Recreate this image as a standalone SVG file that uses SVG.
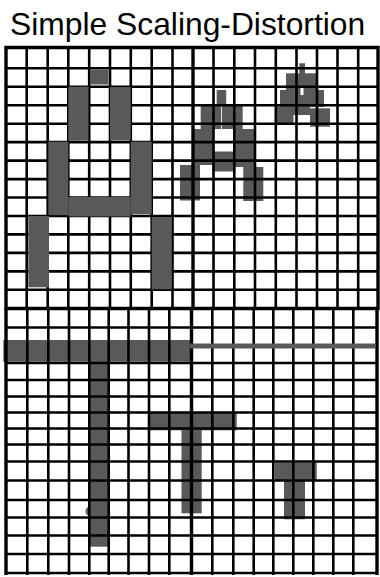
<svg xmlns="http://www.w3.org/2000/svg" width="380" height="577" viewBox="0 0 380 577">
<style>
.g{fill:#595959}
.ln{stroke:#000;stroke-width:2.6;fill:none}
.bd{stroke:#000;stroke-width:3.4;fill:none}
.t{font-family:"Liberation Sans",Arial,sans-serif;font-size:31.8px;fill:#000}
</style>
<rect width="380" height="577" fill="#fff"/>
<text class="t" x="10" y="35">Simple Scaling-Distortion</text>

<g id="small-shapes-under">
  <g id="medium-A">
    <rect class="g" x="216.7" y="90" width="9.5" height="15"/>
    <rect class="g" x="200.7" y="104" width="20.5" height="25"/>
    <rect class="g" x="222" y="104" width="20.7" height="25"/>
    <rect class="g" x="193.3" y="129" width="19.5" height="36"/>
    <rect class="g" x="235" y="129" width="19" height="38"/>
    <rect class="g" x="212.7" y="151.5" width="22.5" height="20"/>
    <rect class="g" x="180" y="165" width="20" height="35.5"/>
    <rect class="g" x="243.3" y="167" width="20" height="34"/>
  </g>
  <g id="small-A">
    <rect class="g" x="299.3" y="63.3" width="5.7" height="11"/>
    <rect class="g" x="286" y="73.3" width="30.7" height="17"/>
    <rect class="g" x="280" y="90" width="44" height="17"/>
    <rect class="g" x="275" y="106.5" width="18.5" height="17"/>
    <rect class="g" x="293" y="106.5" width="17" height="8.5"/>
    <rect class="g" x="310" y="108.3" width="20" height="18.4"/>
    <rect x="300.5" y="87" width="3" height="8" fill="#fff"/>
  </g>
  <g id="big-T">
    <rect class="g" x="3.3" y="340" width="187" height="21.7"/>
    <rect class="g" x="88.5" y="361" width="20" height="185.7"/>
    <path class="g" d="M89 506.5 A5 5 0 0 0 89 516 Z"/>
  </g>
  <g id="medium-T">
    <rect class="g" x="148.3" y="412" width="88.4" height="18.3"/>
    <rect class="g" x="181.5" y="430" width="20.2" height="83.3"/>
  </g>
  <g id="small-T">
    <rect class="g" x="275" y="462.7" width="41.7" height="18"/>
    <rect class="g" x="284" y="480.5" width="21" height="38.8"/>
  </g>
</g>

<g id="grid-top">
  <path class="ln" d="M26.7 47.5V308.5M47.7 47.5V308.5M68.3 47.5V308.5M89.2 47.5V308.5M110 47.5V308.5M130.8 47.5V308.5M151.7 47.5V308.5M172.5 47.5V308.5M213.5 47.5V308.5M234.3 47.5V308.5M255 47.5V308.5M275.8 47.5V308.5M296.5 47.5V308.5M317 47.5V308.5M337.5 47.5V308.5M358.2 47.5V308.5"/>
  <path class="ln" d="M6 68.3H378M6 86.8H378M6 105.2H378M6 123.7H378M6 142.1H378M6 160.6H378M6 179.1H378M6 197.5H378M6 216H378M6 234.4H378M6 252.9H378M6 271.4H378M6 289.8H378"/>
  <path class="bd" d="M6 47.5H378V308.5H6ZM193 47.5V308.5"/>
</g>

<g id="grid-bottom">
  <path class="ln" d="M27.3 310V575M48.3 310V575M69 310V575M89.3 310V575M108.7 310V575M128.5 310V575M149 310V575M169.3 310V575M212.3 310V575M233.3 310V575M253.7 310V575M273.3 310V575M293.3 310V575M313.3 310V575M333.3 310V575M353.3 310V575"/>
  <path class="ln" d="M6 327.5H377M6 363H377M6 380H377M6 396.5H377M6 412.5H377M6 428.5H377M6 444.5H377M6 461.5H377M6 480.5H377M6 500H377M6 517.5H377M6 535.5H377M6 554H377M6 573H377"/>
  <path class="bd" d="M6 308.5V575M377 308.5V575M191.5 308.5V575"/>
</g>

<g id="big-T-line">
  <rect class="g" x="190" y="343.5" width="185" height="5"/>
</g>

<g id="big-A">
  <rect class="g" x="90" y="69.5" width="18.5" height="15"/>
  <rect class="g" x="68.3" y="86.7" width="20.2" height="54"/>
  <rect class="g" x="110" y="87" width="20.7" height="53.5"/>
  <rect class="g" x="48.3" y="141.7" width="20" height="73.5"/>
  <rect class="g" x="130.7" y="141.7" width="21" height="72.5"/>
  <rect class="g" x="68.3" y="197" width="62.4" height="19.5"/>
  <rect class="g" x="28.3" y="216" width="20.7" height="71.3"/>
  <rect class="g" x="151.7" y="217" width="20" height="72.3"/>
</g>
</svg>
